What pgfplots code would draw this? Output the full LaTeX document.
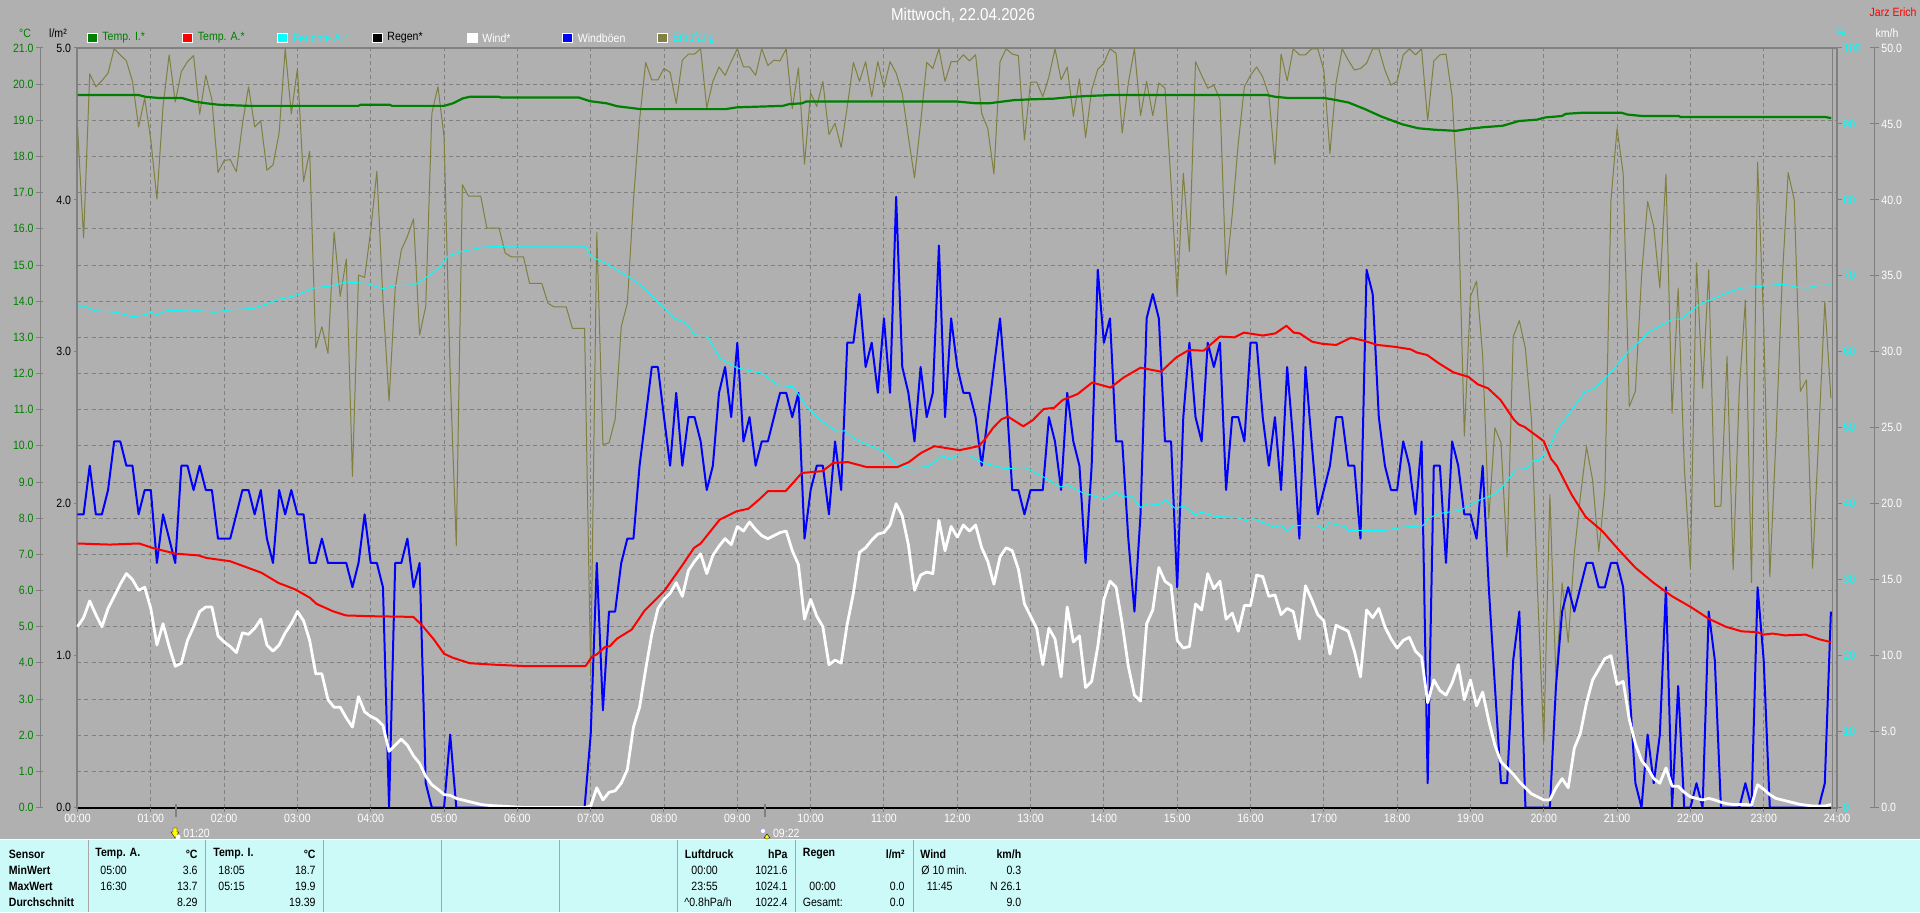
\documentclass[border=0pt]{standalone}
\usepackage{fontspec}
\setmainfont[FakeStretch=0.88]{Liberation Sans}
\usepackage{pgfplots}
\pgfplotsset{compat=1.18}
\definecolor{bgc}{HTML}{B0B0B0}
\definecolor{gr}{HTML}{808080}
\definecolor{dgreen}{HTML}{008000}
\definecolor{olivec}{HTML}{808040}
\definecolor{panelc}{HTML}{CCFAF8}
\definecolor{cyanc}{HTML}{00FFFF}
\definecolor{yellowc}{HTML}{FFFF00}
\definecolor{bluec}{HTML}{0000FF}
\definecolor{redc}{HTML}{FF0000}
\newcommand{\fs}{\fontsize{6}{7}\selectfont}
\pgfplotsset{
 base/.style={at={(38.75pt,52.25pt)},anchor=south west,scale only axis,width=879.75pt,height=379.75pt,xmin=0,xmax=24,clip=false},
 plotonly/.style={base,hide axis},
 labelaxis/.style={base,hide x axis,y axis line style={draw=none},ytick style={draw=none},major tick length=0pt,
   /pgf/number format/assume math mode=true,/pgf/number format/fixed,/pgf/number format/fixed zerofill},
 table/s5/.style={row sep=\\,header=false,x expr=\coordindex/12,y index=0},
}
\tikzset{tl/.style={anchor=west,inner sep=0pt,font=\fs},tr/.style={anchor=east,inner sep=0pt,font=\fs},tb/.style={anchor=west,inner sep=0pt,font=\fs\bfseries},trb/.style={anchor=east,inner sep=0pt,font=\fs\bfseries}}
\begin{document}
\begin{tikzpicture}
\useasboundingbox (0,0) rectangle (960pt,456pt);
\fill[bgc] (0,0) rectangle (960pt,456pt);
% grid and temperature scale
\begin{axis}[base,ymin=0,ymax=21,xtick={0,1,...,24},ytick={0,1,...,21},
  xticklabels={00:00,01:00,02:00,03:00,04:00,05:00,06:00,07:00,08:00,09:00,10:00,11:00,12:00,13:00,14:00,15:00,16:00,17:00,18:00,19:00,20:00,21:00,22:00,23:00,24:00},
  grid=major,grid style={draw=gr,line width=0.5pt,dash pattern=on 2pt off 1.5pt},
  axis line style={draw=gr,line width=1pt},tick style={draw=none},major tick length=0pt,
  x tick label style={font=\fs,text=white,yshift=-3.2pt,inner sep=0pt},
  y tick label style={font=\fs,text=dgreen,anchor=east,inner sep=0pt,xshift=-21.75pt},
  /pgf/number format/assume math mode=true,
  yticklabel style={/pgf/number format/fixed,/pgf/number format/fixed zerofill,/pgf/number format/precision=1}]
\end{axis}
% Empfang, humidity scale
\begin{axis}[labelaxis,ymin=0,ymax=100,axis y line*=right,ytick={0,10,...,100},
  /pgf/number format/precision=0,/pgf/number format/fixed zerofill=false,
  y tick label style={font=\fs,text=cyanc,anchor=west,inner sep=0pt,xshift=3pt}]
\addplot[color=olivec,line width=0.5pt,line join=round] table[s5] {
89.6\\75\\96.6\\94.9\\95.7\\96.7\\99.9\\99.1\\98.3\\95.6\\
89.6\\93.4\\87.9\\80.1\\92.3\\99.1\\92.9\\96.9\\98.2\\99\\
91.3\\96.4\\93.2\\83.6\\85.2\\85.3\\83.7\\90\\94.9\\89.6\\
90.4\\83.9\\84.6\\88.8\\99.9\\91.3\\97.3\\82.4\\86.4\\60.5\\
63.3\\59.8\\75.8\\67.3\\72.2\\43.6\\70.1\\69.8\\76\\83.8\\
66.8\\53.5\\68.4\\73.4\\75.2\\77.5\\62.2\\66\\91.4\\94.9\\
88.3\\57\\34.5\\82\\80.5\\80.5\\80.5\\76.3\\76.3\\76.3\\
73\\72.5\\72.5\\72.5\\69\\69\\69\\66.4\\65.9\\65.9\\
65.9\\63.1\\63.1\\63.1\\17.3\\75.7\\47.8\\48\\51.1\\63.3\\
66.4\\80\\90.5\\98.1\\95.8\\95.8\\97.3\\96.8\\92.7\\98.4\\
99.2\\99.2\\99.9\\92.1\\95.6\\97.5\\96.4\\98.2\\99.9\\97.5\\
97.5\\96.4\\99.9\\97.7\\98.4\\98.3\\99.9\\92\\97.4\\84.7\\
94.1\\92.3\\95.6\\88.6\\90.1\\86.9\\92.3\\98.1\\95.6\\98.2\\
93.6\\98.2\\94.8\\98.2\\96.7\\94\\88.3\\82.9\\90.1\\98.1\\
97.3\\99.9\\95.6\\98.2\\98.2\\99.1\\98.3\\99.1\\91.4\\89.4\\
83.4\\98.2\\99.9\\99.2\\99\\87.9\\95.5\\95.5\\93.6\\96.2\\
99.9\\95.8\\97.5\\91\\95.9\\88.2\\94.5\\97.2\\98\\99.9\\
99.3\\88.8\\95.4\\99.9\\91.1\\95.6\\91.1\\95.4\\94.7\\82.2\\
67.3\\83.5\\73.2\\98.2\\96.4\\94.7\\95.1\\93.2\\70.1\\78\\
87.5\\94.9\\96.4\\97.5\\96.2\\93.8\\84.7\\99.2\\95.7\\99.9\\
99.1\\99.1\\99.9\\99.9\\97.1\\86.1\\95.4\\99.9\\98.4\\97.1\\
97.3\\98\\99.9\\99.9\\97.1\\95.1\\95.6\\99.1\\99.9\\99.1\\
99.9\\90.4\\98.3\\99.1\\99.2\\93.6\\79.6\\48.9\\67.3\\69.3\\
59.5\\38\\50\\48\\33\\62\\64.1\\60.4\\51\\28.2\\
8.7\\41.2\\16.8\\29.6\\21.7\\33.5\\41\\47.5\\43.1\\33.7\\
41.8\\80\\89.4\\83.5\\52.8\\54.8\\69.9\\79.8\\76.5\\68.4\\
83.4\\51.9\\68.4\\44.9\\31.5\\71.7\\55.2\\70.8\\39.6\\39.7\\
59.4\\31.3\\55\\66.8\\29.6\\85\\63.6\\30.4\\48.4\\69\\
83.6\\80\\54.8\\56.3\\31.5\\48.9\\66.6\\53.9\\
};
\end{axis}
% wind
\begin{axis}[labelaxis,ymin=0,ymax=50,axis y line*=right,ytick={0,5,...,50},
  /pgf/number format/precision=1,
  y tick label style={font=\fs,text=white,anchor=west,inner sep=0pt,xshift=22pt}]
\addplot[color=bluec,line width=1pt,line join=round] table[s5] {
19.3\\19.3\\22.5\\19.3\\19.3\\20.9\\24.1\\24.1\\22.5\\22.5\\
19.3\\20.9\\20.9\\16.1\\19.3\\17.7\\16.1\\22.5\\22.5\\20.9\\
22.5\\20.9\\20.9\\17.7\\17.7\\17.7\\19.3\\20.9\\20.9\\19.3\\
20.9\\17.7\\16.1\\20.9\\19.3\\20.9\\19.3\\19.3\\16.1\\16.1\\
17.7\\16.1\\16.1\\16.1\\16.1\\14.5\\16.1\\19.3\\16.1\\16.1\\
14.5\\0\\16.1\\16.1\\17.7\\14.5\\16.1\\1.6\\0\\0\\
0\\4.8\\0\\0\\0\\0\\0\\0\\0\\0\\
0\\0\\0\\0\\0\\0\\0\\0\\0\\0\\
0\\0\\0\\0\\4.8\\16.1\\6.4\\12.9\\12.9\\16.1\\
17.7\\17.7\\22.5\\25.7\\29.0\\29.0\\25.7\\22.5\\27.3\\22.5\\
25.7\\25.7\\24.1\\20.9\\22.5\\27.3\\29.0\\25.7\\30.6\\24.1\\
25.7\\22.5\\24.1\\24.1\\25.7\\27.3\\27.3\\25.7\\27.3\\17.7\\
20.9\\22.5\\22.5\\19.3\\24.1\\20.9\\30.6\\30.6\\33.8\\29.0\\
30.6\\27.3\\32.2\\27.3\\40.2\\29.0\\27.3\\24.1\\29.0\\25.7\\
27.3\\37.0\\25.7\\32.2\\29.0\\27.3\\27.3\\25.7\\22.5\\25.7\\
29.0\\32.2\\27.3\\20.9\\20.9\\19.3\\20.9\\20.9\\20.9\\25.7\\
24.1\\20.9\\27.3\\24.1\\22.5\\16.1\\22.5\\35.4\\30.6\\32.2\\
24.1\\24.1\\17.7\\12.9\\19.3\\32.2\\33.8\\32.2\\24.1\\24.1\\
14.5\\25.7\\30.6\\25.7\\24.1\\30.6\\29.0\\30.6\\20.9\\25.7\\
25.7\\24.1\\30.6\\30.6\\25.7\\22.5\\25.7\\20.9\\29.0\\24.1\\
17.7\\29.0\\24.1\\19.3\\20.9\\22.5\\25.7\\25.7\\22.5\\22.5\\
17.7\\35.4\\33.8\\25.7\\22.5\\20.9\\20.9\\24.1\\22.5\\19.3\\
24.1\\1.6\\22.5\\22.5\\16.1\\24.1\\22.5\\19.3\\19.3\\17.7\\
22.5\\14.5\\8.0\\1.6\\1.6\\9.7\\12.9\\0\\0\\0\\
0\\0\\8.0\\12.9\\14.5\\12.9\\14.5\\16.1\\16.1\\14.5\\
14.5\\16.1\\16.1\\14.5\\8.0\\1.6\\0\\4.8\\1.6\\4.8\\
14.5\\0\\8.0\\0\\0\\1.6\\0\\12.9\\9.7\\0\\
0\\0\\0\\1.6\\0\\14.5\\9.7\\0\\0\\0\\
0\\0\\0\\0\\0\\0\\1.6\\12.9\\
};
\addplot[color=white,line width=1.4pt,line join=round] table[s5] {
11.9\\12.5\\13.6\\12.7\\11.9\\13.1\\13.9\\14.7\\15.4\\15.0\\
14.3\\14.5\\13.1\\10.7\\12.1\\10.6\\9.3\\9.5\\11.0\\11.9\\
12.9\\13.2\\13.2\\11.3\\10.9\\10.6\\10.2\\11.5\\11.4\\11.8\\
12.4\\10.7\\10.3\\10.7\\11.5\\12.1\\12.9\\12.3\\11.0\\8.8\\
8.8\\7.1\\6.6\\6.6\\5.9\\5.3\\7.3\\6.3\\6.0\\5.8\\
5.4\\3.7\\4.1\\4.5\\4.1\\3.4\\2.9\\2.05\\1.5\\1.2\\
.85\\.8\\.6\\.5\\.4\\.3\\.2\\.15\\.12\\.1\\
.08\\.05\\.03\\0\\0\\0\\0\\0\\0\\0\\
0\\0\\0\\0\\.1\\1.3\\.5\\1.0\\1.1\\1.6\\
2.5\\5.3\\6.6\\9.1\\11.4\\13.1\\13.7\\14.1\\14.8\\13.9\\
15.6\\16.2\\16.7\\15.4\\16.6\\17.2\\17.7\\17.3\\18.5\\18.2\\
18.8\\18.3\\17.9\\17.7\\17.9\\18.1\\18.2\\16.9\\16.0\\12.4\\
13.7\\12.6\\11.9\\9.4\\9.7\\9.5\\12.1\\14.1\\16.8\\17.1\\
17.6\\18.0\\18.1\\18.6\\20.0\\19.2\\17.3\\14.3\\15.3\\15.5\\
15.4\\18.9\\16.9\\18.5\\17.8\\18.6\\18.2\\18.6\\17.1\\16.2\\
14.7\\16.5\\17.1\\16.9\\15.7\\13.4\\12.6\\11.8\\9.4\\11.8\\
11.1\\8.6\\13.2\\10.9\\11.3\\7.9\\8.3\\10.6\\13.7\\14.9\\
14.5\\12.1\\9.3\\7.4\\7.0\\12.1\\13.0\\15.8\\14.9\\14.6\\
11.0\\10.5\\10.6\\13.4\\13.0\\15.4\\14.4\\14.9\\12.4\\12.8\\
11.6\\13.3\\13.3\\15.3\\15.2\\13.9\\14.0\\12.7\\13.1\\12.9\\
11.1\\14.6\\13.7\\12.7\\12.3\\10.1\\12.0\\11.8\\11.6\\10.3\\
8.6\\13.0\\12.5\\13.1\\11.9\\11.1\\10.5\\11.0\\11.2\\10.3\\
9.9\\6.9\\8.4\\7.7\\7.4\\8.2\\9.4\\7.1\\8.4\\6.7\\
7.6\\5.7\\4.1\\3.0\\2.6\\2.2\\1.7\\1.3\\.9\\.7\\
.5\\.5\\1.3\\1.9\\1.3\\3.9\\4.9\\6.9\\8.4\\9.1\\
9.8\\10.0\\8.1\\8.3\\5.8\\4.2\\3.1\\2.6\\1.9\\1.6\\
2.6\\1.4\\1.4\\1.0\\.7\\.6\\.5\\.6\\.5\\.35\\
.25\\.2\\.2\\.2\\.15\\1.5\\1.2\\.85\\.6\\.5\\
.4\\.3\\.2\\.15\\.1\\.1\\.1\\.2\\
};
\end{axis}
% rain
\begin{axis}[labelaxis,ymin=0,ymax=5,axis y line*=left,ytick={0,1,...,5},
  /pgf/number format/precision=1,
  y tick label style={font=\fs,text=black,anchor=east,inner sep=0pt,xshift=-3pt}]
\addplot[color=black,line width=1pt] coordinates {(0,0)(23.92,0)};
\end{axis}
% humidity
\begin{axis}[plotonly,ymin=0,ymax=100]
\addplot[color=cyanc,line width=0.5pt,line join=round] coordinates {
(0,66)(.1,66)(.24,65.4)(.53,65.2)(.76,64.6)(.93,64.9)(1,65.2)(1.08,64.9)(1.22,65.4)(1.48,65.5)(1.51,65.3)(1.59,65.5)(1.65,65.4)(1.88,65.2)(2.05,65.5)(2.39,65.7)(2.62,66.4)(2.71,66.8)(2.97,67.4)(3.23,68.4)(3.48,68.7)(3.66,69.2)(3.94,69)(4.17,68.3)(4.32,68.7)(4.6,68.8)(4.8,70.1)(4.95,71.2)(5.05,72.6)(5.24,73.2)(5.55,73.8)(5.84,73.9)(6.93,73.9)(7.01,72.5)(7.22,71.6)(7.53,69.8)(7.68,68.8)(7.98,66)(8.15,64.4)(8.3,63.8)(8.42,62.2)(8.59,62.1)(8.76,59.2)(8.99,57.9)(9.33,57.2)(9.56,55.6)(9.76,55.4)(9.93,53)(10.13,51)(10.36,49.5)(10.47,49.6)(10.59,48.6)(10.77,47.8)(11,46.9)(11.17,45.1)(11.4,44.7)(11.6,44.9)(11.69,45.5)(11.8,46.3)(11.89,45.9)(12.01,46.4)(12.18,46.3)(12.35,45.4)(12.66,44.6)(12.92,44.8)(13.18,43.5)(13.41,42.2)(13.5,42.5)(13.7,41.5)(14.01,40.6)(14.16,41.5)(14.27,40.9)(14.39,40.9)(14.5,39.5)(14.59,40)(14.75,39.9)(14.85,40.5)(14.97,39.4)(15.1,39.7)(15.25,38.5)(15.33,38.9)(15.53,38.3)(15.82,38.2)(15.93,37.8)(16.05,38)(16.33,36.9)(16.42,37.2)(16.49,36.4)(16.59,37.1)(16.92,37.1)(17,36.7)(17.07,37.5)(17.28,37)(17.34,36.5)(17.84,36.5)(18.07,36.9)(18.35,37.1)(18.43,38.1)(18.57,38.7)(18.85,39.1)(19.13,40.5)(19.32,41.2)(19.44,42.3)(19.62,44.5)(19.77,44.6)(19.84,45.6)(19.93,45.7)(20.08,47.3)(20.18,49.7)(20.28,51)(20.55,54.6)(20.69,55.2)(20.89,57)(21.14,59.9)(21.45,62.7)(21.59,63.4)(21.76,64.3)(21.87,64.3)(22,65.3)(22.15,66.4)(22.32,67)(22.53,67.9)(22.7,68.4)(22.93,68.6)(23.26,68.9)(23.46,68.5)(23.6,68.4)(23.71,68.7)(23.92,68.8)};
\end{axis}
% temperatures
\begin{axis}[plotonly,ymin=0,ymax=21]
\addplot[color=redc,line width=1pt,line join=round] coordinates {
(0,7.3)(.44,7.27)(.84,7.3)(1.02,7.18)(1.33,7.02)(1.65,6.97)(1.76,6.9)(2.08,6.81)(2.39,6.58)(2.51,6.49)(2.74,6.21)(2.97,6.03)(3.17,5.8)(3.26,5.63)(3.48,5.43)(3.66,5.31)(4,5.29)(4.58,5.27)(4.69,5.06)(4.86,4.65)(5,4.25)(5.12,4.14)(5.35,3.99)(5.67,3.95)(6.1,3.91)(6.93,3.91)(7.02,4.18)(7.08,4.23)(7.19,4.43)(7.26,4.46)(7.36,4.67)(7.56,4.92)(7.73,5.43)(8,5.98)(8.24,6.67)(8.41,7.18)(8.5,7.3)(8.76,7.96)(8.99,8.19)(9.15,8.26)(9.3,8.52)(9.42,8.75)(9.66,8.75)(9.88,9.25)(10.16,9.3)(10.31,9.53)(10.51,9.55)(10.77,9.41)(11.18,9.41)(11.34,9.55)(11.51,9.81)(11.69,9.99)(12.03,9.88)(12.29,9.99)(12.37,10.16)(12.49,10.5)(12.6,10.73)(12.69,10.81)(12.9,10.54)(13.03,10.71)(13.18,11.02)(13.32,11.05)(13.44,11.27)(13.64,11.43)(13.84,11.75)(14.09,11.61)(14.27,11.89)(14.5,12.16)(14.78,12.05)(14.99,12.45)(15.16,12.65)(15.36,12.63)(15.58,13.02)(15.78,13)(15.91,13.13)(16.17,13.05)(16.34,13.11)(16.49,13.32)(16.59,13.13)(16.67,13.11)(16.84,12.88)(16.98,12.82)(17.17,12.79)(17.37,12.99)(17.54,12.91)(17.73,12.79)(17.96,12.74)(18.18,12.67)(18.27,12.58)(18.41,12.51)(18.57,12.28)(18.77,12.03)(18.97,11.91)(19.1,11.7)(19.24,11.59)(19.41,11.27)(19.59,10.73)(19.66,10.59)(19.74,10.52)(20,10.13)(20.1,9.64)(20.18,9.44)(20.38,8.65)(20.57,8.04)(20.8,7.64)(21.02,7.13)(21.25,6.63)(21.5,6.21)(21.75,5.84)(22,5.55)(22.25,5.22)(22.48,5)(22.7,4.87)(22.91,4.85)(23,4.78)(23.12,4.81)(23.29,4.76)(23.57,4.78)(23.76,4.65)(23.92,4.57)};
\addplot[color=dgreen,line width=1.1pt,line join=round] coordinates {
(0,19.7)(.83,19.7)(.93,19.65)(1.1,19.62)(1.42,19.62)(1.59,19.52)(1.76,19.47)(1.93,19.43)(2.34,19.4)(3.83,19.4)(3.86,19.43)(4.26,19.43)(4.29,19.4)(5,19.4)(5.12,19.47)(5.26,19.61)(5.35,19.65)(5.75,19.65)(5.78,19.63)(6.84,19.63)(6.99,19.53)(7.22,19.47)(7.36,19.39)(7.68,19.31)(8.84,19.31)(9,19.36)(9.62,19.4)(9.71,19.45)(9.88,19.47)(9.94,19.52)(12,19.52)(12.26,19.47)(12.43,19.47)(12.66,19.53)(12.78,19.56)(13,19.58)(13.32,19.6)(13.58,19.65)(13.75,19.67)(14.1,19.7)(16.22,19.7)(16.34,19.65)(16.5,19.62)(17,19.62)(17.17,19.56)(17.34,19.49)(17.56,19.31)(17.79,19.1)(18.07,18.89)(18.29,18.78)(18.51,18.74)(18.8,18.71)(18.96,18.76)(19.18,18.81)(19.44,18.85)(19.66,18.98)(19.91,19.02)(20.02,19.08)(20.25,19.12)(20.3,19.18)(20.53,19.21)(21.06,19.21)(21.14,19.16)(21.34,19.12)(21.84,19.12)(21.87,19.09)(23.85,19.09)(23.92,19.06)};
\end{axis}
% furniture in pixel coordinates
\begin{scope}[x=0.5pt,y=-0.5pt,shift={(0,456pt)}]
 \draw[gr,line width=0.5pt] (1832,48)--(1832,807);
 % scale lines
 \draw[gr,line width=0.5pt] (40.8,48)--(40.8,807.5);
 \foreach \i in {0,...,21}{\draw[gr,line width=0.5pt] (36,{48+\i*36.167})--(43,{48+\i*36.167});}
 \foreach \i in {0,...,5}{\draw[gr,line width=0.5pt] (74,{48+\i*151.9})--(77,{48+\i*151.9});}
 \foreach \i in {0,...,10}{\draw[gr,line width=0.5pt] (1837,{48+\i*75.95})--(1842,{48+\i*75.95});}
 \draw[gr,line width=0.5pt] (1874,48)--(1874,807.5);
 \foreach \i in {0,...,10}{\draw[gr,line width=0.5pt] (1870,{48+\i*75.95})--(1879,{48+\i*75.95});}
 \foreach \i in {0,...,24}{\draw[gr,line width=0.5pt,dash pattern=on 2pt off 1.5pt] ({77.5+\i*73.31},808)--({77.5+\i*73.31},813);}
 % panel
 \fill[panelc] (0,839.5) rectangle (1920,912);
 \draw[white,line width=0.5pt] (0,839.5)--(1920,839.5);
 \foreach \x in {88,205,323,441.6,559,677.5,795,913}{\draw[gr!70!white,line width=0.5pt] (\x,840)--(\x,912);}
 % titles
 \node[inner sep=0pt,text=white,font=\fontsize{8.6}{10}\selectfont] at (963,15) {Mittwoch, 22.04.2026};
 \node[anchor=east,inner sep=0pt,text=redc,font=\fs] at (1917,12) {Jarz Erich};
 \node[inner sep=0pt,text=white,font=\fs] at (1887,33) {km/h};
 \node[inner sep=0pt,text=cyanc,font=\fs] at (1841,32) {\%};
 \node[inner sep=0pt,text=dgreen,font=\fs] at (25,33) {°C};
 \node[inner sep=0pt,text=black,font=\fs] at (58,33) {l/m²};
 % legend
 \foreach \x/\c/\t/\tc in {87/dgreen/Temp. I.*/dgreen,182.5/redc/Temp. A.*/dgreen,277.5/cyanc/Feuchte A.*/cyanc,372/black/Regen*/black,467/white/Wind*/white,562.5/bluec/Windböen/white,657/olivec/Empfang/cyanc}{
   \filldraw[fill=\c,draw=white,line width=0.5pt] (\x,33.5) rectangle (\x+10,43);
   \node[anchor=west,inner sep=0pt,text=\tc,font=\fs] at (\x+15,38) {\t};
 }
 % moon events
 \draw[gr,line width=1pt] (175.7,804)--(175.7,817);
 \draw[gr,line width=1pt] (764.5,804)--(764.5,817);
 \node[anchor=west,inner sep=0pt,text=white,font=\fs] at (183,833) {01:20};
 \node[anchor=west,inner sep=0pt,text=white,font=\fs] at (772.7,833) {09:22};
 \fill[yellowc,draw=black,line width=0.2pt] (173,828)--(177,828)--(177,832)--(179,832)--(175,838)--(171,832)--(173,832)--cycle;
 \fill[white] (178,837) circle (2.5);
 \fill[white,draw=bluec!40,line width=0.2pt] (763,831) circle (2.5);
 \fill[yellowc,draw=black,line width=0.2pt] (767,834)--(770,838)--(768,838)--(768,839)--(766,839)--(766,838)--(764,838)--cycle;
 % table
 \foreach \y/\t in {854/Sensor,870/MinWert,886/MaxWert,902/Durchschnitt}{\node[tb] at (8.5,\y) {\t};}
 \node[tb] at (95,854) {Temp. A.}; \node[trb] at (198,854) {°C};
 \node[tl] at (100,870) {05:00}; \node[tr] at (198,870) {3.6};
 \node[tl] at (100,886) {16:30}; \node[tr] at (198,886) {13.7};
 \node[tr] at (198,902) {8.29};
 \node[tb] at (213,854) {Temp. I.}; \node[trb] at (316,854) {°C};
 \node[tl] at (218,870) {18:05}; \node[tr] at (316,870) {18.7};
 \node[tl] at (218,886) {05:15}; \node[tr] at (316,886) {19.9};
 \node[tr] at (316,902) {19.39};
 \node[tb] at (684.5,854) {Luftdruck}; \node[trb] at (788,854) {hPa};
 \node[tl] at (691,870) {00:00}; \node[tr] at (788,870) {1021.6};
 \node[tl] at (691,886) {23:55}; \node[tr] at (788,886) {1024.1};
 \node[tl] at (684,902) {\symbol{94}0.8hPa/h}; \node[tr] at (788,902) {1022.4};
 \node[tb] at (802.5,854) {Regen}; \node[trb] at (905,854) {l/m²};
 \node[tl] at (809,886) {00:00}; \node[tr] at (905,886) {0.0};
 \node[tl] at (802.5,902) {Gesamt:}; \node[tr] at (905,902) {0.0};
 \node[tb] at (920,854) {Wind}; \node[trb] at (1021.6,854) {km/h};
 \node[tl] at (921,870) {Ø 10 min.}; \node[tr] at (1021.6,870) {0.3};
 \node[tl] at (926.5,886) {11:45}; \node[tr] at (1021.6,886) {N 26.1};
 \node[tr] at (1021.6,902) {9.0};
\end{scope}
\end{tikzpicture}
\end{document}
